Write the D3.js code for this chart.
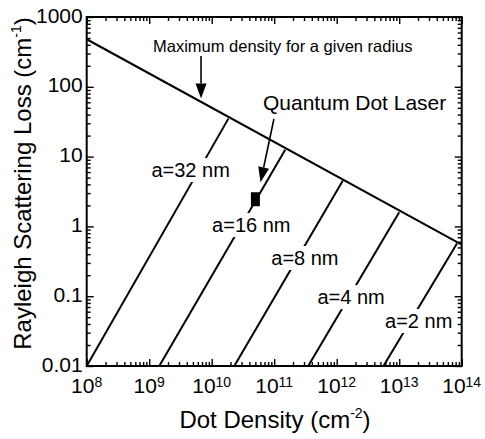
<!DOCTYPE html>
<html><head><meta charset="utf-8">
<script src="https://cdn.jsdelivr.net/npm/d3@7"></script>
<style>
body{margin:0;background:#fff;}
svg{display:block;font-family:"Liberation Sans",Arial,Helvetica,sans-serif;}
</style></head><body>
<svg id="c" width="485" height="439"></svg>
<script>
// ---- data ----
const radiusLabels = ["a=32 nm", "a=16 nm", "a=8 nm", "a=4 nm", "a=2 nm"];
const lineStartDensity = [1e8, 1.45e9, 2.3e10, 3.5e11, 5.6e12];
const lineStartLoss = [0.01, 0.01, 0.01, 0.01, 0.01];
const lineEndDensity = [1.85e10, 1.5e11, 1.25e12, 1.0e13, 8.4e13];
const lineEndLoss = [35, 12.5, 4.5, 1.6, 0.57];
const maxLineDensity = [1e8, 1e14];
const maxLineLoss = [480, 0.55];
const labelDensity = [4.6e9, 4.3e10, 3.1e11, 1.7e12, 2.05e13];
const labelLoss = [5.1, 0.83, 0.28, 0.077, 0.035];
const qdDensity = [5e10];
const qdLoss = [2.45];
const xTickExponents = ["8", "9", "10", "11", "12", "13", "14"];
const yTickLabels = ["0.01", "0.1", "1", "10", "100", "1000"];
const maxArrowDensity = [6.75e9, 6.75e9];
const maxArrowLoss = [276, 68];
const qdArrowDensity = [9.9e10, 6.04e10];
const qdArrowLoss = [34.6, 4.3];

// ---- layout ----
const L = 86.7, R = 461.7, T = 17, B = 366;
const svg = d3.select("#c");
const x = d3.scaleLog().domain([1e8, 1e14]).range([L, R]);
const y = d3.scaleLog().domain([0.01, 1000]).range([B, T]);

const xMajor = xTickExponents.map(e => Math.pow(10, +e));
const yMajor = yTickLabels.map(v => +v);
const minorOf = (majors) => {
  const out = [];
  for (let i = 0; i < majors.length - 1; i++)
    for (let m = 2; m <= 9; m++) out.push(majors[i] * m);
  return out;
};
const xMinor = minorOf(xMajor), yMinor = minorOf(yMajor);

function axisG(axis, tr) {
  const g = svg.append("g").attr("transform", tr).call(axis);
  g.select(".domain").remove();
  g.selectAll("text").remove();
  g.selectAll("line").attr("stroke", "#000").attr("stroke-width", 1.4);
  return g;
}
[[7, xMajor, yMajor], [4, xMinor, yMinor]].forEach(([len, xv, yv]) => {
  axisG(d3.axisBottom(x).tickValues(xv).tickSize(-len).tickSizeOuter(0), `translate(0,${B})`);
  axisG(d3.axisTop(x).tickValues(xv).tickSize(-len).tickSizeOuter(0), `translate(0,${T})`);
  axisG(d3.axisLeft(y).tickValues(yv).tickSize(-len).tickSizeOuter(0), `translate(${L},0)`);
  axisG(d3.axisRight(y).tickValues(yv).tickSize(-len).tickSizeOuter(0), `translate(${R},0)`);
});

svg.append("rect").attr("x", L).attr("y", T).attr("width", R - L).attr("height", B - T)
  .attr("fill", "none").attr("stroke", "#000").attr("stroke-width", 2);

// tick labels
xTickExponents.forEach(e => {
  const t = svg.append("text").attr("x", x(Math.pow(10, +e))).attr("y", B + 27)
    .attr("text-anchor", "middle").attr("font-size", 21);
  t.append("tspan").text("10");
  t.append("tspan").attr("font-size", 14).attr("dy", -6).text(e);
});
yTickLabels.forEach(v => {
  svg.append("text").attr("x", L - 4).attr("y", y(+v) + 5.5)
    .attr("text-anchor", "end").attr("font-size", 21).text(v);
});

// axis titles
const xt = svg.append("text").attr("x", 275).attr("y", 428).attr("text-anchor", "middle").attr("font-size", 24);
xt.append("tspan").text("Dot Density (cm");
xt.append("tspan").attr("font-size", 14).attr("dy", -10).text("-2");
xt.append("tspan").attr("dy", 10).text(")");
const yt = svg.append("text").attr("transform", "translate(31,183.5) rotate(-90)")
  .attr("text-anchor", "middle").attr("font-size", 24);
yt.append("tspan").text("Rayleigh Scattering Loss (cm");
yt.append("tspan").attr("font-size", 14).attr("dy", -10).text("-1");
yt.append("tspan").attr("dy", 10).text(")");

// lines
const line = d3.line().x(d => x(d[0])).y(d => y(d[1]));
svg.append("path").attr("d", line(maxLineDensity.map((d, i) => [d, maxLineLoss[i]])))
  .attr("fill", "none").attr("stroke", "#000").attr("stroke-width", 2);
radiusLabels.forEach((lab, i) => {
  svg.append("path").attr("d", line([[lineStartDensity[i], lineStartLoss[i]], [lineEndDensity[i], lineEndLoss[i]]]))
    .attr("fill", "none").attr("stroke", "#000").attr("stroke-width", 2);
});

// quantum dot marker
svg.append("rect").attr("x", x(qdDensity[0]) - 4.5).attr("y", y(qdLoss[0]) - 7)
  .attr("width", 9).attr("height", 14).attr("fill", "#000");

// radius labels with white backgrounds
radiusLabels.forEach((lab, i) => {
  const g = svg.append("g");
  const t = g.append("text").attr("x", x(labelDensity[i])).attr("y", y(labelLoss[i]))
    .attr("text-anchor", "middle").attr("font-size", 20).text(lab);
  const bb = t.node().getBBox();
  g.insert("rect", "text").attr("x", bb.x - 2).attr("y", bb.y - 1)
    .attr("width", bb.width + 4).attr("height", bb.height + 2).attr("fill", "#fff");
});

// annotations
function arrow(xs, ys) {
  const x0 = x(xs[0]), y0 = y(ys[0]), x1 = x(xs[1]), y1 = y(ys[1]);
  const ang = Math.atan2(y1 - y0, x1 - x0), hl = 15, hw = 5.5;
  const bx = x1 - hl * Math.cos(ang), by = y1 - hl * Math.sin(ang);
  svg.append("line").attr("x1", x0).attr("y1", y0).attr("x2", bx).attr("y2", by)
    .attr("stroke", "#000").attr("stroke-width", 1.6);
  const px = -Math.sin(ang) * hw, py = Math.cos(ang) * hw;
  svg.append("path").attr("d", `M${x1},${y1}L${bx + px},${by + py}L${bx - px},${by - py}Z`).attr("fill", "#000");
}
arrow(maxArrowDensity, maxArrowLoss);
arrow(qdArrowDensity, qdArrowLoss);

svg.append("text").attr("x", 153).attr("y", 52).attr("font-size", 16.5)
  .text("Maximum density for a given radius");
svg.append("text").attr("x", 263).attr("y", 110).attr("font-size", 21)
  .text("Quantum Dot Laser");
</script>
</body></html>
